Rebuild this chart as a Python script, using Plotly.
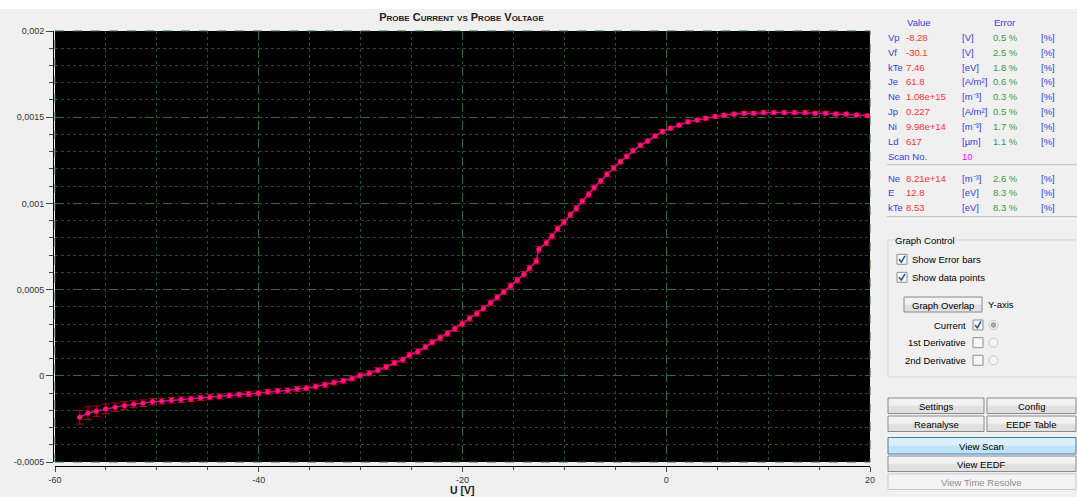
import plotly.graph_objects as go

# ---------------- data ----------------
voltage = [-57.58, -56.76, -55.94, -55.02, -54.10, -53.19, -52.27, -51.38, -50.43, -49.52,
           -48.57, -47.62, -46.67, -45.72, -44.80, -43.85, -42.90, -41.92, -41.00, -40.05,
           -39.10, -38.15, -37.17, -36.25, -35.33, -34.41, -33.50, -32.61, -31.70, -30.84,
           -30.06, -29.14, -28.32, -27.50, -26.68, -25.86, -25.21, -24.39, -23.64, -22.98,
           -22.19, -21.47, -20.76, -20.03, -19.31, -18.59, -17.94, -17.25, -16.59, -15.94,
           -15.28, -14.62, -13.97, -13.42, -12.76, -12.50, -11.77, -11.22, -10.66, -10.04,
           -9.42, -8.83, -8.24, -7.62, -7.08, -6.44, -5.82, -5.16, -4.50, -3.88,
           -3.26, -2.54, -1.82, -1.10, -0.37, 0.41, 1.26, 2.14, 3.03, 3.88,
           4.80, 5.68, 6.66, 7.65, 8.57, 9.55, 10.57, 11.58, 12.60, 13.64,
           14.62, 15.65, 16.66, 17.67, 18.69, 19.73]

current = [-2.40e-4, -2.17e-4, -2.05e-4, -1.92e-4, -1.82e-4, -1.73e-4, -1.65e-4, -1.59e-4, -1.51e-4, -1.47e-4,
           -1.42e-4, -1.38e-4, -1.34e-4, -1.28e-4, -1.24e-4, -1.20e-4, -1.14e-4, -1.09e-4, -1.05e-4, -1.01e-4,
           -0.93e-4, -0.87e-4, -0.85e-4, -0.76e-4, -0.72e-4, -0.62e-4, -0.52e-4, -0.39e-4, -0.29e-4, -0.16e-4,
           0.02e-4, 0.15e-4, 0.32e-4, 0.52e-4, 0.74e-4, 0.94e-4, 1.20e-4, 1.41e-4, 1.67e-4, 1.94e-4,
           2.21e-4, 2.46e-4, 2.73e-4, 3.02e-4, 3.33e-4, 3.61e-4, 3.91e-4, 4.23e-4, 4.55e-4, 4.87e-4,
           5.23e-4, 5.54e-4, 5.89e-4, 6.24e-4, 6.65e-4, 7.34e-4, 7.72e-4, 8.10e-4, 8.53e-4, 8.91e-4,
           9.34e-4, 9.71e-4, 10.12e-4, 10.52e-4, 10.92e-4, 11.30e-4, 11.69e-4, 12.05e-4, 12.42e-4, 12.73e-4,
           13.06e-4, 13.37e-4, 13.62e-4, 13.91e-4, 14.17e-4, 14.36e-4, 14.54e-4, 14.73e-4, 14.84e-4, 14.94e-4,
           15.04e-4, 15.12e-4, 15.18e-4, 15.23e-4, 15.23e-4, 15.27e-4, 15.27e-4, 15.27e-4, 15.27e-4, 15.27e-4,
           15.23e-4, 15.23e-4, 15.19e-4, 15.18e-4, 15.13e-4, 15.08e-4]

current_err = [4.0e-5, 3.7e-5, 3.0e-5, 2.8e-5, 2.4e-5, 2.2e-5, 2.0e-5, 1.9e-5, 1.8e-5, 1.7e-5,
               1.6e-5, 1.6e-5, 1.5e-5, 1.5e-5, 1.5e-5, 1.4e-5, 1.4e-5, 1.4e-5, 1.4e-5, 1.4e-5,
               1.4e-5, 1.4e-5, 1.4e-5, 1.4e-5, 1.4e-5, 1.4e-5, 1.4e-5, 1.4e-5, 1.4e-5, 1.4e-5,
               1.5e-5, 1.5e-5, 1.5e-5, 1.5e-5, 1.5e-5, 1.5e-5, 1.6e-5, 1.6e-5, 1.6e-5, 1.6e-5,
               1.6e-5, 1.6e-5, 1.6e-5, 1.6e-5, 1.6e-5, 1.6e-5, 1.6e-5, 1.6e-5, 1.6e-5, 1.6e-5,
               1.6e-5, 1.6e-5, 1.6e-5, 1.6e-5, 1.6e-5, 1.6e-5, 1.6e-5, 1.6e-5, 1.6e-5, 1.6e-5,
               1.6e-5, 1.6e-5, 1.5e-5, 1.5e-5, 1.5e-5, 1.5e-5, 1.4e-5, 1.4e-5, 1.4e-5, 1.3e-5,
               1.3e-5, 1.2e-5, 1.2e-5, 1.2e-5, 1.1e-5, 1.1e-5, 1.1e-5, 1.1e-5, 1.0e-5, 1.0e-5,
               1.0e-5, 1.0e-5, 1.0e-5, 1.0e-5, 1.0e-5, 1.0e-5, 1.0e-5, 1.0e-5, 1.0e-5, 1.0e-5,
               1.0e-5, 1.0e-5, 1.0e-5, 1.0e-5, 1.0e-5, 1.0e-5]

x_tick_vals = [-60, -40, -20, 0, 20]
x_tick_text = ["-60", "-40", "-20", "0", "20"]
y_tick_vals = [-0.0005, 0, 0.0005, 0.001, 0.0015, 0.002]
y_tick_text = ["-0,0005", "0", "0,0005", "0,001", "0,0015", "0,002"]

param_names = ["Vp", "Vf", "kTe", "Je", "Ne", "Jp", "Ni", "Ld"]
param_values = ["-8.28", "-30.1", "7.46", "61.8", "1.08e+15", "0.227", "9.98e+14", "617"]
param_units = ["[V]", "[V]", "[eV]", "[A/m²]", "[m⁻³]", "[A/m²]", "[m⁻³]", "[µm]"]
param_errors = ["0.5 %", "2.5 %", "1.8 %", "0.6 %", "0.3 %", "0.5 %", "1.7 %", "1.1 %"]
scan_no = "10"
eedf_names = ["Ne", "E", "kTe"]
eedf_values = ["8.21e+14", "12.8", "8.53"]
eedf_units = ["[m⁻³]", "[eV]", "[eV]"]
eedf_errors = ["2.6 %", "8.3 %", "8.3 %"]

# ---------------- layout geometry (pixels) ----------------
W, H = 1077, 497
AX_L, AX_B = 53, 466          # axis line positions
PLOT_R, PLOT_T = 870, 31
PW = PLOT_R - AX_L
PH = AX_B - PLOT_T
FONT = "Liberation Sans, Arial, sans-serif"


def px(x):
    return (x - AX_L) / PW


def py(y):
    return (AX_B - y) / PH


shapes = []
annotations = []


def rect(x0, y0, x1, y1, fill, line=None, lw=1, dash=None, layer="above"):
    shapes.append(dict(type="rect", xref="paper", yref="paper", layer=layer,
                       x0=px(x0), x1=px(x1), y0=py(y1), y1=py(y0), fillcolor=fill,
                       line=dict(color=line if line else "rgba(0,0,0,0)", width=lw if line else 0,
                                 dash=dash or "solid")))


def hline(x0, x1, y, color, lw=1):
    shapes.append(dict(type="line", xref="paper", yref="paper", x0=px(x0), x1=px(x1),
                       y0=py(y), y1=py(y), line=dict(color=color, width=lw)))


def text(x, y, s, color="#000000", size=9.5, anchor="left", bg=None):
    d = dict(xref="paper", yref="paper", x=px(x), y=py(y), text=s, showarrow=False,
             xanchor=anchor, yanchor="middle", borderpad=0,
             font=dict(family=FONT, size=size, color=color))
    if bg:
        d["bgcolor"] = bg
    annotations.append(d)


def checkbox(x0, yc, checked):
    rect(x0, yc - 5, x0 + 10, yc + 5, "#f7f7f7", "#8e8f8f")
    if checked:
        path = "M {} L {} L {}".format(
            f"{px(x0 + 2):.5f},{py(yc):.5f}",
            f"{px(x0 + 4.3):.5f},{py(yc + 2.8):.5f}",
            f"{px(x0 + 8):.5f},{py(yc - 3.5):.5f}")
        shapes.append(dict(type="path", xref="paper", yref="paper", path=path,
                           line=dict(color="#2c56a0", width=1.6)))


def radio(xc, yc, selected):
    shapes.append(dict(type="circle", xref="paper", yref="paper",
                       x0=px(xc - 4.5), x1=px(xc + 4.5), y0=py(yc + 4.5), y1=py(yc - 4.5),
                       fillcolor="#f4f4f4", line=dict(color="#c8c8c8", width=1)))
    if selected:
        shapes.append(dict(type="circle", xref="paper", yref="paper",
                           x0=px(xc - 2.3), x1=px(xc + 2.3), y0=py(yc + 2.3), y1=py(yc - 2.3),
                           fillcolor="#a8a8a8", line=dict(color="#9a9a9a", width=1)))


def button(x0, y0, x1, y1, label, kind="normal"):
    if kind == "active":
        top, bot, border, tc = "#dcf0fb", "#bfe2f6", "#3c7fb1", "#000000"
    elif kind == "disabled":
        top, bot, border, tc = "#f4f4f4", "#f4f4f4", "#c3c7ca", "#8d8d8d"
    else:
        top, bot, border, tc = "#f2f2f2", "#e0e0e0", "#8a8a8a", "#000000"
    mid = (y0 + y1) / 2
    rect(x0, y0, x1, mid, top)
    rect(x0, mid, x1, y1, bot)
    rect(x0, y0, x1, y1, "rgba(0,0,0,0)", border)
    text((x0 + x1) / 2, mid + 0.5, label, tc, anchor="center")


# white strip at the very top
rect(0, 0, W, 9, "#ffffff")

# plot frame (dashed dark green)
rect(55, PLOT_T, PLOT_R, 462, "rgba(0,0,0,0)", "#2a6b3c", 1, "dash")

# ---- parameter table ----
C_NAME, C_VAL, C_UNIT, C_ERR, C_PCT = 887, 905, 961, 992, 1040
BLUE, RED, GREEN, MAG = "#3a3ae6", "#ff3030", "#3a9a3a", "#ff00ff"
text(906, 23, "Value", BLUE)
text(993, 23, "Error", BLUE)
row_y = [37.6, 52.3, 67.1, 81.8, 96.6, 111.3, 126.3, 141.3]
for i in range(len(param_names)):
    y = row_y[i]
    text(C_NAME, y, param_names[i], BLUE)
    text(C_VAL, y, param_values[i], RED)
    text(C_UNIT, y, param_units[i], BLUE)
    text(C_ERR, y, param_errors[i], GREEN)
    text(C_PCT, y, "[%]", BLUE)
text(C_NAME, 156, "Scan No.", BLUE)
text(C_UNIT, 156, scan_no, MAG)
hline(887, W, 165, "#a0a0a0")
hline(887, W, 166, "#ffffff")
eedf_y = [178.3, 192.8, 207.3]
for i in range(len(eedf_names)):
    y = eedf_y[i]
    text(C_NAME, y, eedf_names[i], BLUE)
    text(C_VAL, y, eedf_values[i], RED)
    text(C_UNIT, y, eedf_units[i], BLUE)
    text(C_ERR, y, eedf_errors[i], GREEN)
    text(C_PCT, y, "[%]", BLUE)
hline(887, W, 217, "#a0a0a0")
hline(887, W, 218, "#ffffff")

# ---- Graph Control group ----
rect(888, 240, W + 5, 377, "rgba(0,0,0,0)", "#d5d5d5")
text(894, 240, "Graph Control", "#000000", bg="#f0f0f0")
checkbox(897, 259.3, True)
text(911, 259.3, "Show Error bars")
checkbox(897, 277.3, True)
text(911, 277.3, "Show data points")
button(904, 297, 982, 312, "Graph Overlap")
text(987, 304.5, "Y-axis")
for lbl, yy, chk, sel in [("Current", 325, True, True),
                          ("1st Derivative", 342.7, False, False),
                          ("2nd Derivative", 360.3, False, False)]:
    text(967, yy, lbl, anchor="right")
    checkbox(973, yy, chk)
    radio(993.5, yy, sel)

# ---- buttons ----
button(888, 398, 984, 413.5, "Settings")
button(987, 398, 1076, 413.5, "Config")
button(888, 416, 984, 431.5, "Reanalyse")
button(987, 416, 1076, 431.5, "EEDF Table")
button(888, 437.5, 1076, 454, "View Scan", "active")
button(888, 456, 1076, 471.5, "View EEDF")
button(888, 474, 1076, 489.5, "View Time Resolve", "disabled")

# x axis title
text(462, 490, "<b>U [V]</b>", "#202020", size=10.5, anchor="center")

# ---------------- figure ----------------
fig = go.Figure()
fig.add_trace(go.Scatter(
    x=voltage, y=current, mode="lines+markers",
    line=dict(color="#b810c0", width=1.5),
    marker=dict(color="#ff1a70", size=5, line=dict(color="#e0004a", width=0.5)),
    error_y=dict(type="data", array=current_err, visible=True,
                 color="#c40000", thickness=1, width=4),
    showlegend=False, hoverinfo="x+y"))

grid_major = "#2a6b3c"
grid_minor = "#1f4f2d"
tickfont = dict(family=FONT, size=9, color="#333333")

fig.update_layout(
    width=W, height=H,
    margin=dict(l=AX_L, r=W - PLOT_R, t=PLOT_T, b=H - AX_B, pad=0, autoexpand=False),
    paper_bgcolor="#f0f0f0",
    plot_bgcolor="#000000",
    title=dict(text="Probe Current vs Probe Voltage",
               font=dict(family=FONT, size=11, color="#222222", weight="bold", variant="small-caps"),
               x=0.5, xref="paper", xanchor="center",
               y=1 - 17 / H, yref="container", yanchor="middle", automargin=False),
    xaxis=dict(range=[-60, 20], domain=[2 / PW, 1], anchor="free", position=0,
               automargin=False,
               tickmode="array", tickvals=x_tick_vals, ticktext=x_tick_text,
               ticks="outside", ticklen=5, tickcolor="#444444", tickwidth=1,
               showline=True, linecolor="#000000", linewidth=1,
               showgrid=True, gridcolor=grid_major, griddash="dash", gridwidth=1,
               zeroline=False, tickfont=tickfont,
               minor=dict(tickmode="linear", tick0=0, dtick=5, ticks="outside", ticklen=3,
                          tickcolor="#444444", showgrid=True, gridcolor=grid_minor,
                          griddash="dot", gridwidth=1)),
    yaxis=dict(range=[-0.0005, 0.002], domain=[4 / PH, 1], anchor="free", position=0,
               automargin=False,
               tickmode="array", tickvals=y_tick_vals, ticktext=y_tick_text,
               ticks="outside", ticklen=7, tickcolor="#444444", tickwidth=1,
               showline=True, linecolor="#000000", linewidth=1,
               showgrid=True, gridcolor=grid_major, griddash="dash", gridwidth=1,
               zeroline=False, tickfont=tickfont,
               minor=dict(tickmode="linear", tick0=0, dtick=0.0001, ticks="outside", ticklen=4,
                          tickcolor="#444444", showgrid=True, gridcolor=grid_minor,
                          griddash="dot", gridwidth=1)),
    shapes=shapes,
    annotations=annotations,
)

fig.write_html("out.html", config={"displayModeBar": False},
               post_script="document.body.style.margin='0';document.body.style.overflow='hidden';")
